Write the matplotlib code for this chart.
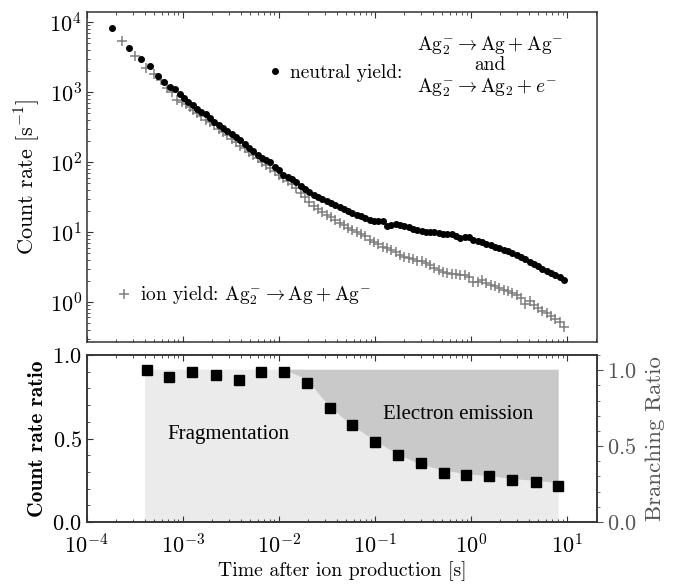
import numpy as np
import matplotlib
matplotlib.use("Agg")
import matplotlib.pyplot as plt
from matplotlib.lines import Line2D
from matplotlib.ticker import LogLocator, MultipleLocator, NullFormatter

plt.rcParams['font.family'] = 'serif'
plt.rcParams['font.serif'] = ['cmr10']
plt.rcParams['mathtext.fontset'] = 'cm'
plt.rcParams['axes.formatter.use_mathtext'] = True
plt.rcParams['axes.unicode_minus'] = False
plt.rcParams['font.size'] = 14

# ---------------- data: top panel ----------------
t_neutral_early = [1.85e-4, 2.76e-4, 3.68e-4, 4.6e-4, 5.5e-4, 6.4e-4, 7.4e-4, 8.3e-4,
                   9.3e-4, 1.03e-3, 1.14e-3]
y_neutral_early = [8300, 4300, 3000, 2330, 1700, 1390, 1180, 1090, 950, 830, 730]

t_ion_early = [2.3e-4, 3.2e-4, 4.1e-4, 5.0e-4, 5.9e-4, 6.9e-4, 7.8e-4, 8.7e-4,
               9.7e-4, 1.07e-3, 1.18e-3]
y_ion_early = [5400, 3300, 2200, 1830, 1470, 1140, 1000, 760, 720, 680, 620]

t_log = [1.27e-3, 1.41e-3, 1.56e-3, 1.73e-3, 1.92e-3, 2.13e-3, 2.36e-3, 2.62e-3, 2.90e-3,
         3.22e-3, 3.57e-3, 3.96e-3, 4.39e-3, 4.87e-3, 5.40e-3, 5.99e-3, 6.64e-3, 7.37e-3,
         8.17e-3, 9.06e-3, 1.005e-2, 1.115e-2, 1.236e-2, 1.371e-2, 1.52e-2, 1.69e-2,
         1.87e-2, 2.07e-2, 2.30e-2, 2.55e-2, 2.83e-2, 3.14e-2, 3.48e-2, 3.86e-2, 4.28e-2,
         4.75e-2, 5.26e-2, 5.84e-2, 6.47e-2, 7.18e-2, 7.96e-2, 8.83e-2, 9.79e-2, 0.1086,
         0.1204, 0.1336, 0.1481, 0.1643, 0.182, 0.202, 0.224, 0.249, 0.276, 0.306, 0.339,
         0.376, 0.417, 0.463, 0.513, 0.569, 0.631, 0.700, 0.777, 0.861, 0.955, 1.059,
         1.175, 1.303, 1.445, 1.603, 1.778, 1.972, 2.19, 2.43, 2.69, 2.98, 3.31, 3.67,
         4.07, 4.51, 5.01, 5.55, 6.16, 6.83, 7.57, 8.40, 9.32]

y_neutral_log = [650, 580, 520, 485, 420, 375, 338, 305, 278, 250, 226, 205, 182, 160, 142,
                 128, 116, 108, 99, 86, 76, 66, 62, 58, 52, 46, 41.5, 37.5, 34, 31.5, 29.5,
                 28, 26, 24.2, 22.8, 21.2, 20.0, 18.6, 17.3, 16.8, 15.8, 15.0, 14.6, 14.2,
                 14.4, 12.2, 12.8, 12.9, 12.6, 12.1, 11.6, 11.0, 10.8, 10.2, 10.1, 10.0,
                 10.0, 9.6, 9.3, 9.5, 9.5, 8.8, 8.1, 8.6, 8.5, 7.8, 7.4, 7.1, 6.8, 6.5, 6.2,
                 5.9, 5.6, 5.35, 5.0, 4.75, 4.4, 4.05, 3.75, 3.5, 3.25, 3.0, 2.8, 2.6, 2.42,
                 2.25, 2.08]

y_ion_log = [560, 500, 450, 400, 370, 340, 300, 265, 240, 210, 192, 172, 158, 140, 126,
             114, 100, 90, 82, 74, 66, 60, 54, 49, 42, 36, 31.5, 27, 23.5, 21.0, 19.5,
             17.6, 16.2, 14.8, 13.6, 12.4, 11.4, 10.8, 10.0, 9.3, 8.8, 7.8, 7.2, 6.8, 6.2,
             5.9, 5.5, 5.1, 4.7, 4.4, 4.25, 4.05, 3.9, 3.8, 3.6, 3.35, 3.1, 2.85, 2.68,
             2.6, 2.55, 2.5, 2.45, 2.4, 2.25, 1.95, 1.9, 2.05, 1.85, 1.72, 1.68, 1.58, 1.5,
             1.42, 1.33, 1.25, 1.15, 0.95, 1.04, 0.92, 0.83, 0.75, 0.7, 0.62, 0.57, 0.51,
             0.44]

# ---------------- data: bottom panel ----------------
t_ratio = [4.2e-4, 7.2e-4, 1.25e-3, 2.2e-3, 3.8e-3, 6.5e-3, 1.12e-2, 1.95e-2, 3.4e-2,
           5.8e-2, 0.10, 0.174, 0.30, 0.52, 0.89, 1.55, 2.7, 4.7, 8.0]
ratio = [0.91, 0.87, 0.90, 0.88, 0.85, 0.90, 0.90, 0.83, 0.68, 0.58, 0.48, 0.40, 0.354,
         0.296, 0.282, 0.274, 0.254, 0.24, 0.218]

t_branch = [4.0e-4, 1.12e-2, 1.95e-2, 2.7e-2, 3.4e-2, 5.8e-2, 0.10, 0.174, 0.30, 0.52,
            0.89, 1.55, 2.7, 4.7, 8.1]
branch_frag = [0.915, 0.915, 0.855, 0.756, 0.686, 0.58, 0.486, 0.406, 0.346, 0.31, 0.29,
               0.276, 0.26, 0.248, 0.236]
branch_top = 0.915

# ---------------- figure ----------------
fig = plt.figure(figsize=(6.78, 5.87), dpi=100)
ax1 = fig.add_axes([0.128, 0.4174, 0.7525, 0.562])
ax2 = fig.add_axes([0.128, 0.1107, 0.7525, 0.2845])

spine_col = '#333333'
for ax in (ax1, ax2):
    for s in ax.spines.values():
        s.set_color(spine_col)
        s.set_linewidth(1.1)

t_n = t_neutral_early + t_log
y_n = y_neutral_early + y_neutral_log
t_i = t_ion_early + t_log
y_i = y_ion_early + y_ion_log

TICK_FS = 16

ion_col = '#7f7f7f'
ax1.plot(t_i, y_i, linestyle='none', marker='+', color=ion_col, markersize=6.5,
         markeredgewidth=1.1, zorder=2)
ax1.plot(t_n, y_n, linestyle='none', marker='o', color='black', markersize=4.0, zorder=3)

ax1.set_xscale('log')
ax1.set_yscale('log')
ax1.set_xlim(1e-4, 2.05e1)
ax1.set_ylim(0.268, 1.39e4)
ax1.set_ylabel(r'Count rate [s$^{-1}$]', fontsize=16, labelpad=5)
ax1.tick_params(axis='both', which='both', direction='in', top=True, right=False,
                labelbottom=False, labelsize=TICK_FS, color=spine_col)
ax1.tick_params(which='major', length=4)
ax1.tick_params(which='minor', length=2)
ax1.yaxis.set_major_locator(LogLocator(base=10, numticks=20))
ax1.yaxis.set_minor_locator(LogLocator(base=10, subs=np.arange(2, 10), numticks=20))
ax1.yaxis.set_minor_formatter(NullFormatter())
ax1.xaxis.set_major_locator(LogLocator(base=10, numticks=20))
ax1.xaxis.set_minor_locator(LogLocator(base=10, subs=np.arange(2, 10), numticks=20))
ax1.xaxis.set_minor_formatter(NullFormatter())

# legends
h_n = Line2D([], [], linestyle='none', marker='o', color='black', markersize=4.0)
h_i = Line2D([], [], linestyle='none', marker='+', color=ion_col, markersize=6.5,
             markeredgewidth=1.1)
leg1 = ax1.legend([h_n], ['neutral yield:'], loc='center left',
                  bbox_to_anchor=(0.33, 0.815), frameon=False, fontsize=14,
                  handletextpad=0.3, handlelength=1.0, borderpad=0)
ax1.add_artist(leg1)
ax1.legend([h_i], [r'ion yield: $\mathrm{Ag}_2^{-} \rightarrow \mathrm{Ag} + \mathrm{Ag}^{-}$'],
           loc='center left', bbox_to_anchor=(0.035, 0.14), frameon=False, fontsize=14,
           handletextpad=0.3, handlelength=1.0, borderpad=0)

ax1.text(0.79, 0.90, r'$\mathrm{Ag}_2^{-} \rightarrow \mathrm{Ag} + \mathrm{Ag}^{-}$',
         transform=ax1.transAxes, ha='center', va='center', fontsize=14)
ax1.text(0.79, 0.838, 'and', transform=ax1.transAxes, ha='center', va='center', fontsize=14)
ax1.text(0.785, 0.77, r'$\mathrm{Ag}_2^{-} \rightarrow \mathrm{Ag}_2 + e^{-}$',
         transform=ax1.transAxes, ha='center', va='center', fontsize=14)

# bottom panel
light = '#ebebeb'
dark = '#c9c9c9'
ax2.fill_between(t_branch, 0, branch_frag, color=light, linewidth=0, zorder=0)
ax2.fill_between(t_branch, branch_frag, branch_top, color=dark, linewidth=0, zorder=0)
ax2.plot(t_ratio, ratio, linestyle='none', marker='s', color='black', markersize=7.8, zorder=3)

ax2.set_xscale('log')
ax2.set_xlim(1e-4, 2.05e1)
ax2.set_ylim(0, 1.0)
ax2.yaxis.set_major_locator(MultipleLocator(0.5))
ax2.yaxis.set_minor_locator(MultipleLocator(0.1))
ax2.set_ylabel('Count rate ratio', fontsize=15.5, family='cmb10', labelpad=4)
ax2.set_xlabel('Time after ion production [s]', fontsize=14.2, labelpad=3)
ax2.tick_params(axis='both', which='both', direction='in', top=True, right=False,
                labelsize=TICK_FS, color=spine_col)
ax2.tick_params(axis='x', which='major', pad=8)
ax2.tick_params(which='major', length=4)
ax2.tick_params(which='minor', length=2)
ax2.xaxis.set_major_locator(LogLocator(base=10, numticks=20))
ax2.xaxis.set_minor_locator(LogLocator(base=10, subs=np.arange(2, 10), numticks=20))
ax2.xaxis.set_minor_formatter(NullFormatter())

ax2.text(0.278, 0.526, 'Fragmentation', transform=ax2.transAxes, ha='center', va='center',
         fontsize=15, family='Liberation Serif')
ax2.text(0.727, 0.646, 'Electron emission', transform=ax2.transAxes, ha='center',
         va='center', fontsize=15, family='Liberation Serif')

ax3 = ax2.twinx()
ax3.set_ylim(0, 1.1)
ax3.yaxis.set_major_locator(MultipleLocator(0.5))
ax3.yaxis.set_minor_locator(MultipleLocator(0.1))
grey_txt = '#555555'
ax3.set_ylabel('Branching Ratio', color=grey_txt, fontsize=16.5, labelpad=6)
ax3.tick_params(axis='y', which='both', direction='out', labelsize=TICK_FS,
                colors=grey_txt)
ax3.tick_params(which='major', length=4)
ax3.tick_params(which='minor', length=2)
for s in ax3.spines.values():
    s.set_color(spine_col)
    s.set_linewidth(1.1)

fig.savefig('out.png', dpi=100)
